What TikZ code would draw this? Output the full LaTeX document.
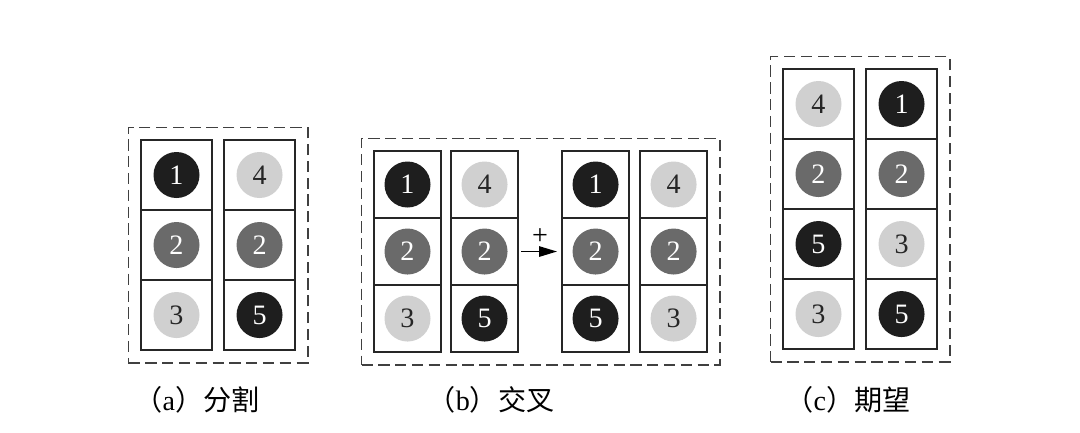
\documentclass[tikz,border=0pt]{standalone}
\usepackage{fontspec}
\setmainfont{Liberation Serif}
\newfontfamily\cjk{Noto Sans CJK SC}
\usepackage{tikz}
\usetikzlibrary{arrows.meta,positioning,fit}

\definecolor{balldark}{HTML}{1E1E1E}
\definecolor{ballmid}{HTML}{6A6A6A}
\definecolor{balllight}{HTML}{D0D0D0}

\begin{document}
\begin{tikzpicture}[
    x=0.025cm, y=-0.025cm,
    >={Triangle[length=0.45cm,width=0.26cm]},
    cellA/.style={draw=black!85, line width=1.2pt, inner sep=0pt, outer sep=0pt,
        minimum width=1.775cm, minimum height=1.75cm, font=\fontsize{20}{24}\selectfont},
    cellB/.style={cellA, minimum width=1.675cm, minimum height=1.675cm},
    bdark/.style={path picture={\fill[balldark] (path picture bounding box.center) circle (0.575cm);}, text=white},
    bmid/.style={path picture={\fill[ballmid] (path picture bounding box.center) circle (0.575cm);}, text=white},
    blight/.style={path picture={\fill[balllight] (path picture bounding box.center) circle (0.575cm);}, text=black!85},
    frame/.style={draw=black!75, line width=1.4pt, dash pattern=on 0.28cm off 0.14cm, inner sep=0.3125cm},
    lab/.style={font=\fontsize{20}{24}\selectfont}
]
    \useasboundingbox (0,0) rectangle (1080,433);

    % (a) split
    \node[cellA, bdark, anchor=north west] (a11) at (141,140) {1};
    \node[cellA, bmid, below=0pt of a11] (a12) {2};
    \node[cellA, blight, below=0pt of a12] (a13) {3};
    \node[cellA, blight, right=0.3cm of a11] (a21) {4};
    \node[cellA, bmid, below=0pt of a21] (a22) {2};
    \node[cellA, bdark, below=0pt of a22] (a23) {5};
    \node[frame, fit=(a11)(a23)] (fa) {};

    % (b) crossover
    \node[cellB, bdark, anchor=north west] (b11) at (374,151) {1};
    \node[cellB, bmid, below=0pt of b11] (b12) {2};
    \node[cellB, blight, below=0pt of b12] (b13) {3};
    \node[cellB, blight, right=0.25cm of b11] (b21) {4};
    \node[cellB, bmid, below=0pt of b21] (b22) {2};
    \node[cellB, bdark, below=0pt of b22] (b23) {5};
    \node[cellB, bdark, right=1.1cm of b21] (b31) {1};
    \node[cellB, bmid, below=0pt of b31] (b32) {2};
    \node[cellB, bdark, below=0pt of b32] (b33) {5};
    \node[cellB, blight, right=0.275cm of b31] (b41) {4};
    \node[cellB, bmid, below=0pt of b41] (b42) {2};
    \node[cellB, blight, below=0pt of b42] (b43) {3};
    \node[frame, fit=(b11)(b43)] (fb) {};
    \draw[->, line width=1.1pt, shorten <=0.075cm, shorten >=0.125cm] (b22.east) -- node[above=1pt, font=\fontsize{20}{24}\selectfont] (plus) {+} (b32.west);

    % (c) expectation
    \node[cellA, blight, anchor=north west] (c11) at (783,69) {4};
    \node[cellA, bmid, below=0pt of c11] (c12) {2};
    \node[cellA, bdark, below=0pt of c12] (c13) {5};
    \node[cellA, blight, below=0pt of c13] (c14) {3};
    \node[cellA, bdark, right=0.3cm of c11] (c21) {1};
    \node[cellA, bmid, below=0pt of c21] (c22) {2};
    \node[cellA, blight, below=0pt of c22] (c23) {3};
    \node[cellA, bdark, below=0pt of c23] (c24) {5};
    \node[frame, fit=(c11)(c24)] (fc) {};

    \node[lab] (la) at (197,400) {\cjk（\rmfamily a\cjk）分割};
    \node[lab] (lb) at (491,400) {\cjk（\rmfamily b\cjk）交叉};
    \node[lab] (lc) at (848,400) {\cjk（\rmfamily c\cjk）期望};
\end{tikzpicture}
\end{document}
